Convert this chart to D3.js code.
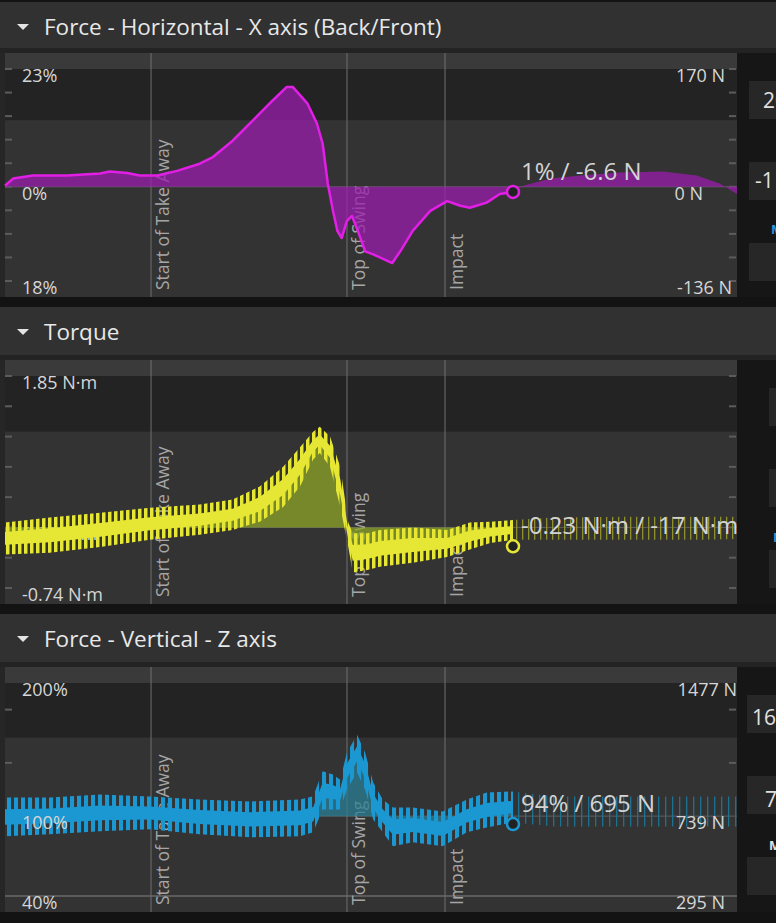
<!DOCTYPE html>
<html>
<head>
<meta charset="utf-8">
<script src="https://cdn.jsdelivr.net/npm/d3@7"></script>
<style>
body { margin: 0; background: #131313; }
svg text { font-family: "Open Sans", sans-serif; }
</style>
</head>
<body>
<script>
// time axis is % of the recording, events + cursor on it
var eventTimes = [19.95, 46.72, 60.11];
var eventNames = ["Start of Take Away", "Top of Swing", "Impact"];
var cursorTime = 69.4;

// Force X, % of body weight
var forceXTime = [0, 1.1, 3.8, 8.5, 13.0, 14.3, 16.7, 18.4, 20.8, 23.5, 26.6, 28.4, 31.1, 33.9, 36.6, 38.5, 39.3, 41.3, 42.6, 43.4,
  44.1, 44.8, 45.4, 46.0, 46.7, 47.4, 48.2, 49.2, 50.3, 51.2, 52.9, 54.0, 55.7, 58.1, 60.4, 62.2, 63.5, 65.8, 67.6, 69.4,
  70.8, 74.5, 78.6, 84.0, 89.9, 94.5, 97.7, 100];
var forceXPct = [0.2, 1.6, 2.2, 2.2, 2.6, 3.0, 2.7, 2.2, 2.2, 3.1, 4.5, 5.8, 9.0, 13.0, 16.9, 19.5, 19.5, 16.3, 12.4, 8.4,
  0.6, -4.7, -8.6, -10.0, -6.7, -5.7, -8.6, -12.6, -13.2, -13.8, -14.9, -12.6, -8.6, -4.7, -2.8, -3.7, -4.1, -3.1, -1.4, -1.0,
  0.2, 1.6, 2.2, 2.8, 3.0, 2.2, 0.6, -1.4];
var forceXTicks = [23, 18.4, 13.8, 9.2, 4.6, 0, -4.6, -9.2, -13.8, -18.4];
var forceXLeftLabels = ["23%", "0%", "18%"];
var forceXRightLabels = ["170 N", "0 N", "-136 N"];
var forceXLabelValues = [23, 0, -18.4];

// Torque, N·m - signal oscillates, kept as top / bottom envelope
var torqueTime = [0, 6.1, 13.0, 19.8, 26.6, 31.1, 34.8, 38.0, 40.3, 42.1, 43.0, 44.4, 45.8, 46.9, 47.5, 49.5, 51.2, 55.7, 60.4, 63.5,
  66.3, 69.4, 75, 85, 95, 100];
var torqueHigh = [0.06, 0.12, 0.18, 0.24, 0.28, 0.34, 0.50, 0.74, 0.98, 1.17, 1.23, 1.11, 0.74, 0.06, -0.07, -0.07, -0.03, 0.00, -0.03, 0.06,
  0.07, 0.09, 0.12, 0.13, 0.13, 0.13];
var torqueLow = [-0.33, -0.31, -0.24, -0.15, -0.09, -0.03, 0.07, 0.25, 0.50, 0.83, 0.91, 0.74, 0.25, -0.24, -0.55, -0.52, -0.48, -0.43, -0.36, -0.27,
  -0.19, -0.15, -0.15, -0.15, -0.15, -0.14];
var torqueTicks = [1.85, 1.48, 1.11, 0.74, 0.37, 0, -0.37, -0.74];
var torqueLeftLabels = ["1.85 N·m", "0.00 N·m", "-0.74 N·m"];
var torqueLabelValues = [1.85, 0, -0.74];

// Force Z, % of body weight, envelope too
var vertTime = [0, 6.1, 13.0, 19.8, 26.6, 33.5, 40.3, 42.1, 43.4, 44.8, 45.8, 46.7, 48.1, 49.2, 50.3, 51.6, 53.0, 55.7, 59.8, 63.1,
  65.8, 69.4, 75, 85, 95, 100];
var vertHigh = [114.0, 114.0, 116.2, 114.7, 112.5, 111.0, 112.5, 115.0, 133.7, 131.2, 127.4, 147.6, 161.1, 147.6, 125.2, 112.5, 106.5, 106.5, 103.5, 112.5,
  117.7, 118.5, 114.7, 114.7, 114.7, 114.7];
var vertLow = [84.8, 86.3, 88.6, 90.1, 86.3, 84.1, 84.8, 87.8, 105.0, 105.0, 105.0, 120.0, 132.7, 120.0, 97.5, 87.8, 77.3, 80.3, 77.3, 87.8,
  91.5, 95.3, 92.3, 92.3, 92.3, 92.3];
var vertTicks = [180, 140];
var vertLeftLabels = ["200%", "100%", "40%"];
var vertRightLabels = ["1477 N", "739 N", "295 N"];
var vertLabelValues = [200, 100, 40];

var W = 776, H = 923;
var chartLeft = 5, chartRight = 737;

var panels = [
  { title: "Force - Horizontal - X axis (Back/Front)", headerTop: 2, chartTop: 53, chartH: 244,
    domain: [-18.4, 23], darkTo: 13, base: 0, extraLine: null, ticks: forceXTicks,
    leftLabels: forceXLeftLabels, rightLabels: forceXRightLabels, labelValues: forceXLabelValues, rightEnd: [725, 703, 732],
    kind: "line", time: forceXTime, values: forceXPct, cursorValue: -1.0, cursorText: "1% / -6.6 N",
    color: "#e21fe6", fill: "#9a1eae", labelsOnTop: true,
    side: { x: 749, texts: [["20", 763, 55, "#e0e0e0"], ["-1", 755, 135, "#e0e0e0"], ["M", 771, 181, "#2a9ad2"]] } },
  { title: "Torque", headerTop: 307, chartTop: 360, chartH: 244,
    domain: [-0.74, 1.85], darkTo: 1.17, base: 0, extraLine: null, ticks: torqueTicks,
    leftLabels: torqueLeftLabels, rightLabels: [], labelValues: torqueLabelValues, rightEnd: [],
    kind: "band", time: torqueTime, high: torqueHigh, low: torqueLow, cursorValue: -0.23, cursorText: "-0.23 N·m / -17 N·m",
    color: "#e6e634", fill: "#8fa52a", dim: "#8f8f2c", period: 6, labelsOnTop: false,
    side: { x: 769, texts: [["M", 773, 182, "#2a9ad2"]] } },
  { title: "Force - Vertical - Z axis", headerTop: 614, chartTop: 667, chartH: 245,
    domain: [40, 200], darkTo: 159, base: 100, extraLine: 40, ticks: vertTicks,
    leftLabels: vertLeftLabels, rightLabels: vertRightLabels, labelValues: vertLabelValues, rightEnd: [737, 725, 725],
    kind: "band", time: vertTime, high: vertHigh, low: vertLow, cursorValue: 94, cursorText: "94% / 695 N",
    color: "#1b97d2", fill: "#2a7f96", dim: "#1c7090", period: 7, labelsOnTop: true,
    side: { x: 747, texts: [["16", 752, 58, "#e0e0e0"], ["73", 765, 140, "#e0e0e0"], ["M", 769, 183, "#e0e0e0"]] } }
];

var svg = d3.select("body").append("svg")
    .attr("width", W)
    .attr("height", H);

var defs = svg.append("defs");

var x = d3.scaleLinear().domain([0, 100]).range([chartLeft, chartRight]);

panels.forEach(function(p, pi) {
  var chartBottom = p.chartTop + p.chartH;
  var y = d3.scaleLinear().domain(p.domain).range([chartBottom - 16, p.chartTop + 16]);
  var g = svg.append("g");

  // header
  g.append("rect").attr("x", 0).attr("y", p.headerTop).attr("width", W)
    .attr("height", p.chartTop - 5 - p.headerTop).attr("fill", "#313131");
  g.append("rect").attr("x", 0).attr("y", p.chartTop - 5).attr("width", W).attr("height", 5).attr("fill", "#232323");
  g.append("path")
    .attr("d", "M17," + (p.headerTop + 22) + "L29," + (p.headerTop + 22) + "L23," + (p.headerTop + 28) + "Z")
    .attr("fill", "#e4e4e4");
  g.append("text").attr("x", 44).attr("y", p.headerTop + 33)
    .attr("font-size", 22.5).attr("fill", "#e8e8e8").text(p.title);

  // chart backgrounds
  g.append("rect").attr("x", 0).attr("y", p.chartTop).attr("width", chartLeft).attr("height", p.chartH).attr("fill", "#262626");
  g.append("rect").attr("x", chartLeft).attr("y", p.chartTop).attr("width", chartRight - chartLeft)
    .attr("height", p.chartH).attr("fill", "#333333");
  g.append("rect").attr("x", chartLeft).attr("y", p.chartTop).attr("width", chartRight - chartLeft)
    .attr("height", y(p.domain[1]) - p.chartTop).attr("fill", "#3a3a3a");
  g.append("rect").attr("x", chartLeft).attr("y", y(p.domain[1])).attr("width", chartRight - chartLeft)
    .attr("height", y(p.darkTo) - y(p.domain[1])).attr("fill", "#232323");

  // side panel (cut off at the window edge, like the screenshot)
  g.append("rect").attr("x", chartRight).attr("y", p.chartTop).attr("width", W - chartRight)
    .attr("height", p.chartH).attr("fill", "#161616");
  [28, 109, 190].forEach(function(off) {
    g.append("rect").attr("x", p.side.x).attr("y", p.chartTop + off).attr("width", W - p.side.x)
      .attr("height", 38).attr("fill", "#272727");
  });
  p.side.texts.forEach(function(t) {
    g.append("text").attr("x", t[1]).attr("y", p.chartTop + t[2])
      .attr("font-size", t[0] == "M" ? 13 : 21).attr("font-weight", t[0] == "M" ? "bold" : null)
      .attr("fill", t[3]).text(t[0]);
  });

  // ticks
  p.ticks.forEach(function(v) {
    g.append("line").attr("x1", chartLeft).attr("x2", chartLeft + 7).attr("y1", y(v)).attr("y2", y(v))
      .attr("stroke", "#5c5c5c").attr("stroke-width", 2);
    g.append("line").attr("x1", chartRight - 8).attr("x2", chartRight - 1).attr("y1", y(v)).attr("y2", y(v))
      .attr("stroke", "#5c5c5c").attr("stroke-width", 2);
  });

  // base and min lines
  g.append("line").attr("x1", chartLeft).attr("x2", chartRight).attr("y1", y(p.base)).attr("y2", y(p.base))
    .attr("stroke", "#5e5e5e");
  if (p.extraLine != null) {
    g.append("line").attr("x1", chartLeft).attr("x2", chartRight).attr("y1", y(p.extraLine)).attr("y2", y(p.extraLine))
      .attr("stroke", "#6a6a6a").attr("stroke-width", 1.5);
  }

  // event lines + rotated labels
  eventTimes.forEach(function(t, i) {
    g.append("line").attr("x1", x(t)).attr("x2", x(t)).attr("y1", p.chartTop).attr("y2", chartBottom)
      .attr("stroke", "#707070");
    g.append("text")
      .attr("transform", "translate(" + (x(t) + 18) + "," + (chartBottom - 7) + ") rotate(-90)")
      .attr("font-size", 17.5).attr("fill", "#a6a6a6").text(eventNames[i]);
  });

  function axisLabels() {
    p.leftLabels.forEach(function(l, i) {
      g.append("text").attr("x", 22).attr("y", y(p.labelValues[i]) + 13)
        .attr("font-size", 18).attr("fill", "#d6d6d6").text(l);
    });
    p.rightLabels.forEach(function(l, i) {
      g.append("text").attr("x", p.rightEnd[i]).attr("y", y(p.labelValues[i]) + 13)
        .attr("text-anchor", "end").attr("font-size", 18).attr("fill", "#d6d6d6").text(l);
    });
  }
  if (!p.labelsOnTop) axisLabels();

  var idx = d3.range(p.time.length);
  var before = idx.filter(function(i) { return p.time[i] <= cursorTime; });
  var after = idx.filter(function(i) { return p.time[i] >= cursorTime; });

  if (p.kind == "line") {
    var area = d3.area()
      .x(function(i) { return x(p.time[i]); })
      .y0(y(p.base))
      .y1(function(i) { return y(p.values[i]); });
    var line = d3.line()
      .x(function(i) { return x(p.time[i]); })
      .y(function(i) { return y(p.values[i]); });
    g.append("path").datum(idx).attr("d", area).attr("fill", p.fill).attr("fill-opacity", 0.75);
    g.append("path").datum(before).attr("d", line).attr("fill", "none")
      .attr("stroke", p.color).attr("stroke-width", 2.5).attr("stroke-linejoin", "round");
  } else {
    // stripe patterns to fake the fast oscillation
    var pid = "stripe" + pi, did = "dim" + pi;
    defs.append("pattern").attr("id", pid).attr("patternUnits", "userSpaceOnUse")
      .attr("width", p.period).attr("height", 10)
      .append("rect").attr("width", p.period * 0.58).attr("height", 10).attr("fill", p.color);
    defs.append("pattern").attr("id", did).attr("patternUnits", "userSpaceOnUse")
      .attr("width", p.period).attr("height", 10)
      .append("rect").attr("width", 1.3).attr("height", 10).attr("fill", p.dim);

    var mid = function(i) { return (p.high[i] + p.low[i]) / 2; };
    var fillArea = d3.area()
      .x(function(i) { return x(p.time[i]); })
      .y0(y(p.base))
      .y1(function(i) { return y(mid(i)); });
    var band = d3.area()
      .x(function(i) { return x(p.time[i]); })
      .y0(function(i) { return y(p.low[i]); })
      .y1(function(i) { return y(p.high[i]); });
    var core = d3.area()
      .x(function(i) { return x(p.time[i]); })
      .y0(function(i) { return y(p.low[i] + 0.3 * (p.high[i] - p.low[i])); })
      .y1(function(i) { return y(p.high[i] - 0.3 * (p.high[i] - p.low[i])); });

    g.append("path").datum(before).attr("d", fillArea).attr("fill", p.fill).attr("fill-opacity", 0.75);
    g.append("path").datum(before).attr("d", band).attr("fill", "url(#" + pid + ")");
    g.append("path").datum(before).attr("d", core).attr("fill", p.color);
    g.append("path").datum(after).attr("d", band).attr("fill", "url(#" + did + ")");
  }

  if (p.labelsOnTop) axisLabels();

  // cursor
  var cx = x(cursorTime), cy = y(p.cursorValue);
  g.append("circle").attr("cx", cx).attr("cy", cy).attr("r", 6)
    .attr("fill", "#222").attr("stroke", p.color).attr("stroke-width", 2.5);
  g.append("text").attr("x", cx + 8).attr("y", cy - 12)
    .attr("font-size", 24).attr("fill", "#d4d4d4").text(p.cursorText);
});
</script>
</body>
</html>
